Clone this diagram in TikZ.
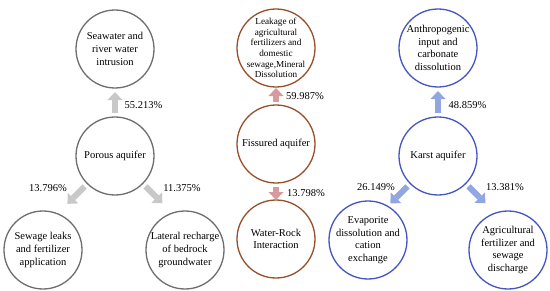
\documentclass[tikz,border=0pt]{standalone}
\usepackage{fontspec}
\setmainfont{Liberation Serif}
\usepackage{tikz}
\usetikzlibrary{arrows.meta, positioning}
\definecolor{grayline}{HTML}{6E6E6E}
\definecolor{brownline}{HTML}{96502A}
\definecolor{blueline}{HTML}{4455C4}
\definecolor{grayflow}{HTML}{C8C8C8}
\definecolor{pinkflow}{HTML}{D89A9C}
\definecolor{blueflow}{HTML}{92A7E2}
\tikzstyle{aquifer} = [circle, minimum size=78pt, inner sep=-8pt, outer sep=0pt, align=center, line width=1.3pt, font=\fontsize{10.5}{12.6}\selectfont]
\tikzstyle{pct} = [inner sep=0pt, font=\fontsize{10.5}{12}\selectfont]
\tikzstyle{flow} = [line width=6pt, -{Triangle[length=8pt, width=15pt, line width=0pt]}]

\begin{document}
\begin{tikzpicture}[x=1pt, y=1pt]
  \useasboundingbox (0,0) rectangle (550,290);

  % Porous aquifer
  \node[aquifer, draw=grayline] (porous) at (115,134) {Porous aquifer};
  \node[aquifer, draw=grayline, above=29pt of porous] (sea) {Seawater and\\river water\\intrusion};
  \node[aquifer, draw=grayline] (sewage) at (43,40) {Sewage leaks\\and fertilizer\\application};
  \node[aquifer, draw=grayline] (lateral) at (185,40) {Lateral recharge\\of bedrock\\groundwater};

  % Fissured aquifer
  \node[aquifer, draw=brownline] (fiss) at (276,146) {Fissured aquifer};
  \node[aquifer, draw=brownline, above=18pt of fiss, font=\fontsize{9.2}{10.7}\selectfont] (leak) {Leakage of\\agricultural\\fertilizers and\\domestic\\sewage,Mineral\\Dissolution};
  \node[aquifer, draw=brownline, below=17pt of fiss] (wrock) {Water-Rock\\Interaction};

  % Karst aquifer
  \node[aquifer, draw=blueline] (karst) at (438,134) {Karst aquifer};
  \node[aquifer, draw=blueline, above=30pt of karst] (anthro) {Anthropogenic\\input and\\carbonate\\dissolution};
  \node[aquifer, draw=blueline] (evap) at (368,50) {Evaporite\\dissolution and\\cation\\exchange};
  \node[aquifer, draw=blueline] (agri) at (508,40) {Agricultural\\fertilizer and\\sewage\\discharge};

  % Arrows
  \draw[flow, draw=grayflow, shorten <=4pt, shorten >=4pt] (porous) -- (sea);
  \draw[flow, draw=grayflow, shorten <=4pt, shorten >=14pt] (porous.225) -- (sewage.68);
  \draw[flow, draw=grayflow, shorten <=4pt, shorten >=14pt] (porous.-45) -- (lateral.109);
  \draw[flow, draw=pinkflow, shorten <=3pt, shorten >=1pt] (fiss) -- (leak);
  \draw[flow, draw=pinkflow, shorten <=4pt, shorten >=0pt] (fiss) -- (wrock);
  \draw[flow, draw=blueflow, shorten <=4pt, shorten >=4pt] (karst) -- (anthro);
  \draw[flow, draw=blueflow, shorten <=4pt, shorten >=4pt] (karst.225) -- (evap.60);
  \draw[flow, draw=blueflow, shorten <=4pt, shorten >=14pt] (karst.-45) -- (agri.109);

  % Percentages
  \node[pct] (p1) at (143.5,185) {55.213\%};
  \node[pct] (p2) at (48,102) {13.796\%};
  \node[pct] (p3) at (182,102) {11.375\%};
  \node[pct] (p4) at (305,194) {59.987\%};
  \node[pct] (p5) at (306,97) {13.798\%};
  \node[pct] (p6) at (467.5,185) {48.859\%};
  \node[pct] (p7) at (376,103) {26.149\%};
  \node[pct] (p8) at (505,103) {13.381\%};
\end{tikzpicture}
\end{document}
